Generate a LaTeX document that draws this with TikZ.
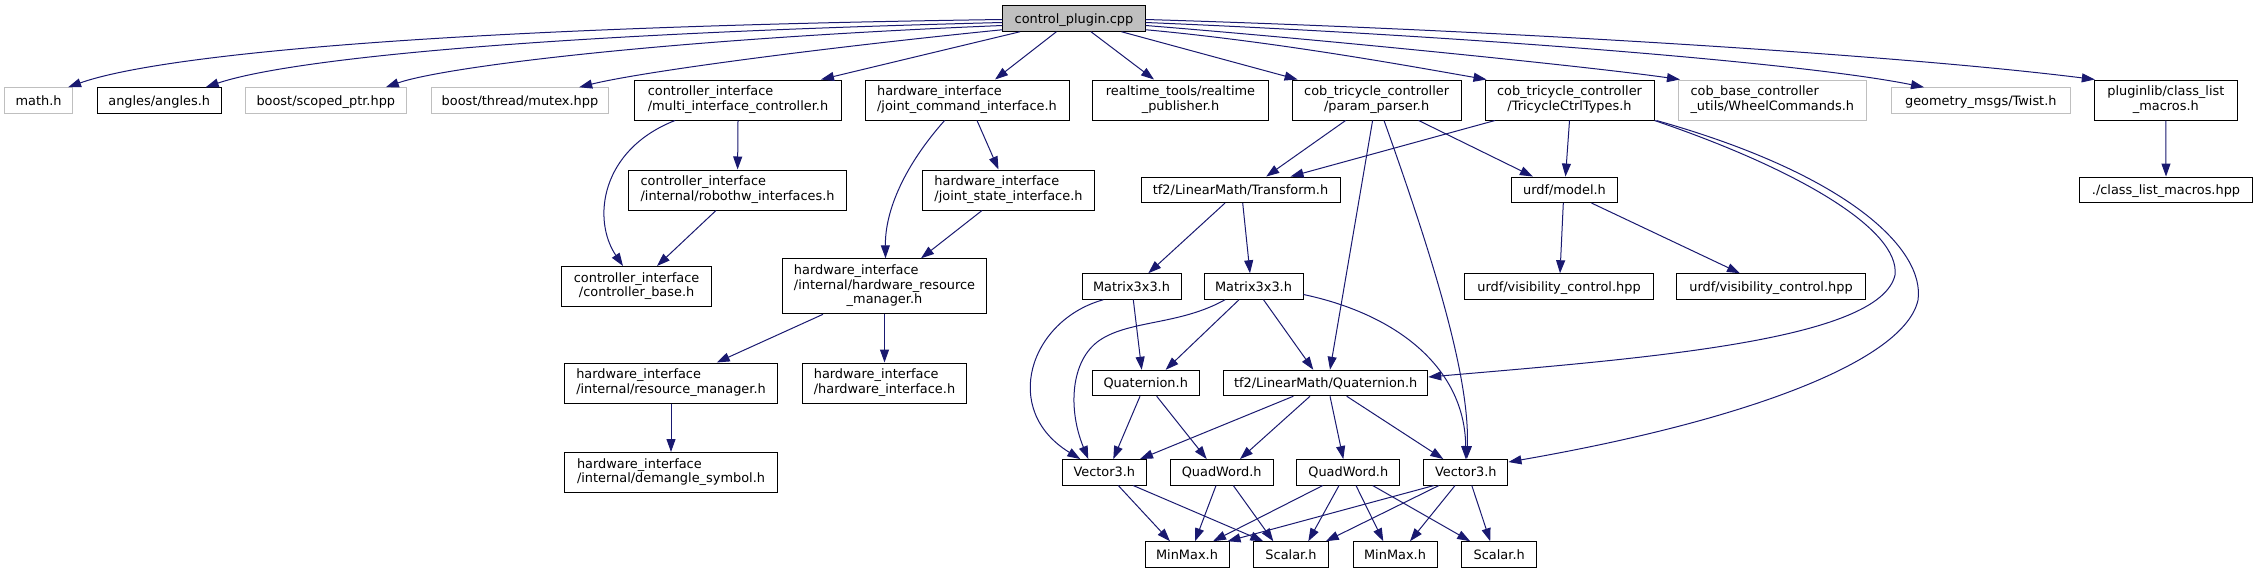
\documentclass[tikz,border=0pt]{standalone}
\usepackage{fontspec}
\setmainfont{DejaVu Sans}
\usetikzlibrary{arrows.meta,calc}
\definecolor{edgeblue}{HTML}{191970}
\definecolor{boxgray}{HTML}{BFBFBF}
\newcommand\dxfont{\fontsize{12.9}{14.5}\selectfont}
\newcommand\twol[2]{\begin{tabular}{@{}l@{}}#1\\\multicolumn{1}{@{}c@{}}{#2}\end{tabular}}
\newcommand\threel[3]{\begin{tabular}{@{}l@{}}#1\\#2\\\multicolumn{1}{@{}c@{}}{#3}\end{tabular}}
\tikzset{
  box/.style={draw=black, line width=1pt, inner sep=0pt, minimum height=25.5pt, font=\dxfont, text=black},
  one/.style={text height=10.5pt, text depth=1.5pt},
  two/.style={minimum height=40pt},
  three/.style={minimum height=55pt},
  gbox/.style={box, draw=boxgray},
  root/.style={box, fill=boxgray},
  dep/.style={draw=edgeblue, line width=1pt, -{Triangle[length=13pt,width=9pt]}},
}
\begin{document}
\begin{tikzpicture}[x=1pt,y=-1pt]
\useasboundingbox (0,0) rectangle (2258,573);
% row 0
\node[root,one,minimum width=142.4] (cp) at (1074,18.5) {control\_plugin.cpp};
% row 1
\node[gbox,one,minimum width=68] (math) at (38.6,100.5) {math.h};
\node[box,one,minimum width=124] (angles) at (159.2,100.5) {angles/angles.h};
\node[gbox,one,minimum width=161] (scoped) at (325.8,100.5) {boost/scoped\_ptr.hpp};
\node[gbox,one,minimum width=177.4] (mutex) at (520,100.5) {boost/thread/mutex.hpp};
\node[box,two,minimum width=206.7] (mic) at (738,100) {\twol{controller\_interface}{/multi\_interface\_controller.h}};
\node[box,two,minimum width=204] (jci) at (967,100) {\twol{hardware\_interface}{/joint\_command\_interface.h}};
\node[box,two,minimum width=175.5] (rtp) at (1180.5,100) {\twol{realtime\_tools/realtime}{\_publisher.h}};
\node[box,two,minimum width=169.2] (pp) at (1376.6,100) {\twol{cob\_tricycle\_controller}{/param\_parser.h}};
\node[box,two,minimum width=169] (tct) at (1569.5,100) {\twol{cob\_tricycle\_controller}{/TricycleCtrlTypes.h}};
\node[gbox,two,minimum width=187.7] (wc) at (1772.3,100) {\twol{cob\_base\_controller}{\_utils/WheelCommands.h}};
\node[gbox,one,minimum width=178.6] (twist) at (1980.8,100.5) {geometry\_msgs/Twist.h};
\node[box,two,minimum width=143] (clm) at (2165.8,100) {\twol{pluginlib/class\_list}{\_macros.h}};
% row 2
\node[box,two,minimum width=217.5] (rhw) at (737.6,190) {\twol{controller\_interface}{/internal/robothw\_interfaces.h}};
\node[box,two,minimum width=172] (jsi) at (1008.5,190) {\twol{hardware\_interface}{/joint\_state\_interface.h}};
\node[box,one,minimum width=199] (tr) at (1240.5,189.8) {tf2/LinearMath/Transform.h};
\node[box,one,minimum width=105.6] (model) at (1564.5,189.8) {urdf/model.h};
\node[box,one,minimum width=173.4] (clmh) at (2166,189.8) {./class\_list\_macros.hpp};
% row 3
\node[box,two,minimum width=149.6] (cb) at (636.6,286.5) {\twol{controller\_interface}{/controller\_base.h}};
\node[box,three,minimum width=204] (hrm) at (884.5,286.3) {\threel{hardware\_interface}{/internal/hardware\_resource}{\_manager.h}};
\node[box,one,minimum width=99] (m1) at (1131.5,286.5) {Matrix3x3.h};
\node[box,one,minimum width=99] (m2) at (1253.5,286.5) {Matrix3x3.h};
\node[box,one,minimum width=188.3] (vis1) at (1559,286.5) {urdf/visibility\_control.hpp};
\node[box,one,minimum width=188.2] (vis2) at (1771,286.5) {urdf/visibility\_control.hpp};
% row 4
\node[box,two,minimum width=213.4] (rm) at (671,383) {\twol{hardware\_interface}{/internal/resource\_manager.h}};
\node[box,two,minimum width=164.4] (hi) at (884.5,383) {\twol{hardware\_interface}{/hardware\_interface.h}};
\node[box,one,minimum width=106.7] (q1) at (1145.7,383) {Quaternion.h};
\node[box,one,minimum width=204] (tq) at (1325.7,383) {tf2/LinearMath/Quaternion.h};
% row 5
\node[box,two,minimum width=212.3] (dm) at (671,472.5) {\twol{hardware\_interface}{/internal/demangle\_symbol.h}};
\node[box,one,minimum width=84] (v1) at (1104.3,472.3) {Vector3.h};
\node[box,one,minimum width=102.7] (qw1) at (1221.7,472.3) {QuadWord.h};
\node[box,one,minimum width=102.7] (qw2) at (1348.3,472.3) {QuadWord.h};
\node[box,one,minimum width=84.3] (v2) at (1465.8,472.3) {Vector3.h};
% row 6
\node[box,one,minimum width=84] (mm1) at (1187,554.5) {MinMax.h};
\node[box,one,minimum width=74.6] (s1) at (1291,554.5) {Scalar.h};
\node[box,one,minimum width=84] (mm2) at (1395,554.5) {MinMax.h};
\node[box,one,minimum width=75] (s2) at (1499.2,554.5) {Scalar.h};

% edges from control_plugin.cpp
\draw[dep] ($(cp.west)+(0,1)$) .. controls (400,28) and (150,58) .. ($(math.north east)+(-5,0)$);
\draw[dep] ($(cp.west)+(0,4)$) .. controls (500,35) and (280,62) .. ($(angles.north east)+(-16,0)$);
\draw[dep] ($(cp.west)+(0,7)$) .. controls (650,40) and (440,68) .. ($(scoped.north east)+(-21,0)$);
\draw[dep] ($(cp.south west)+(0,-2)$) .. controls (820,48) and (640,72) .. ($(mutex.north east)+(-30,0)$);
\draw[dep] ($(cp.south)+(-54,0)$) -- ($(mic.north)+(83,0)$);
\draw[dep] ($(cp.south)+(-17.6,0)$) -- ($(jci.north)+(28,0)$);
\draw[dep] ($(cp.south)+(17,0)$) -- ($(rtp.north)+(-26.5,0)$);
\draw[dep] ($(cp.south)+(47.5,0)$) -- ($(pp.north)+(-79,0)$);
\draw[dep] ($(cp.south east)+(0,-2)$) .. controls (1280,42) and (1420,68) .. ($(tct.north west)+(2,0)$);
\draw[dep] ($(cp.east)+(0,7)$) .. controls (1350,42) and (1600,68) .. ($(wc.north west)+(2,0)$);
\draw[dep] ($(cp.east)+(0,4)$) .. controls (1450,35) and (1800,62) .. ($(twist.north west)+(33,0)$);
\draw[dep] ($(cp.east)+(0,1)$) .. controls (1500,30) and (1900,55) .. ($(clm.north west)+(1,0)$);

% controller / hardware interface part
\draw[dep] (mic.south) -- (rhw.north);
\draw[dep] ($(mic.south)+(-63,0)$) .. controls (600,150) and (592,220) .. ($(cb.north)+(-13.6,0)$);
\draw[dep] ($(rhw.south)+(-21.6,0)$) -- ($(cb.north)+(20.4,0)$);
\draw[dep] ($(jci.south)+(10,0)$) -- ($(jsi.north)+(-10,0)$);
\draw[dep] ($(jci.south)+(-22.4,0)$) .. controls (905,165) and (885,210) .. ($(hrm.north)+(1,0)$);
\draw[dep] ($(jsi.south)+(-26.5,0)$) -- ($(hrm.north)+(36.5,0)$);
\draw[dep] ($(hrm.south)+(-61.5,0)$) -- ($(rm.north)+(45.7,0)$);
\draw[dep] (hrm.south) -- (hi.north);
\draw[dep] (rm.south) -- (dm.north);

% cob_tricycle part
\draw[dep] ($(pp.south)+(-31,0)$) -- ($(tr.north)+(25.7,0)$);
\draw[dep] ($(tct.south)+(-74.5,0)$) -- ($(tr.north)+(50,0)$);
\draw[dep] ($(pp.south)+(42,0)$) -- ($(model.north)+(-31.6,0)$);
\draw[dep] (tct.south) -- ($(model.north)+(1,0)$);
\draw[dep] ($(pp.south)+(-4,0)$) -- ($(tq.north)+(4.3,0)$);
\draw[dep] ($(pp.south)+(7.4,0)$) .. controls (1436,266) and (1470,380) .. ($(v2.north)+(1,0)$);
\draw[dep] (tct.south east) .. controls (1800,170) and (1900,230) .. (1895,275) .. controls (1880,340) and (1650,358) .. ($(tq.east)+(0,-6)$);
\draw[dep] ($(tct.south east)+(2,0)$) .. controls (1850,175) and (1925,250) .. (1918,300) .. controls (1905,360) and (1750,420) .. ($(v2.north east)+(0,3)$);
\draw[dep] ($(model.south)+(-1.2,0)$) -- ($(vis1.north)+(1,0)$);
\draw[dep] ($(model.south)+(27,0)$) -- ($(vis2.north)+(-31,0)$);
\draw[dep] (clm.south) -- (clmh.north);

% LinearMath part
\draw[dep] ($(tr.south)+(-15.5,0)$) -- ($(m1.north)+(16.8,0)$);
\draw[dep] ($(tr.south)+(2.2,0)$) -- ($(m2.north)+(-3.5,0)$);
\draw[dep] ($(m1.south)+(-28.2,0)$) .. controls (1030,320) and (1000,410) .. ($(v1.north)+(-24,0)$);
\draw[dep] ($(m1.south)+(1.8,0)$) -- ($(q1.north)+(-4,0)$);
\draw[dep] ($(m2.south)+(-28.5,0)$) .. controls (1180,325) and (1130,320) .. (1100,340) .. controls (1070,360) and (1068,410) .. ($(v1.north)+(-16,0)$);
\draw[dep] ($(m2.south)+(-14.5,0)$) -- ($(q1.north)+(20,0)$);
\draw[dep] ($(m2.south)+(10,0)$) -- ($(tq.north)+(-12.4,0)$);
\draw[dep] ($(m2.east)+(0,8)$) .. controls (1400,315) and (1465,370) .. (v2.north);
\draw[dep] ($(q1.south)+(-5.7,0)$) -- ($(v1.north)+(9,0)$);
\draw[dep] ($(q1.south)+(11,0)$) -- ($(qw1.north)+(-15,0)$);
\draw[dep] ($(tq.south)+(-32.4,0)$) -- ($(v1.north)+(35.7,0)$);
\draw[dep] ($(tq.south)+(-15.7,0)$) -- ($(qw1.north)+(18.3,0)$);
\draw[dep] ($(tq.south)+(4.3,0)$) -- ($(qw2.north)+(-5,0)$);
\draw[dep] ($(tq.south)+(21,0)$) -- ($(v2.north)+(-22.5,0)$);
\draw[dep] ($(v1.south)+(14,0)$) -- ($(mm1.north)+(-17,0)$);
\draw[dep] ($(v1.south)+(29,0)$) -- ($(s1.north)+(-27.7,0)$);
\draw[dep] ($(qw1.south)+(-5.7,0)$) -- ($(mm1.north)+(8,0)$);
\draw[dep] ($(qw1.south)+(11.6,0)$) -- ($(s1.north)+(-17.7,0)$);
\draw[dep] ($(qw2.south)+(-25.6,0)$) -- ($(mm1.north)+(26,0)$);
\draw[dep] ($(qw2.south)+(-9.3,0)$) -- ($(s1.north)+(17.3,0)$);
\draw[dep] ($(qw2.south)+(7.7,0)$) -- ($(mm2.north)+(-11.7,0)$);
\draw[dep] ($(qw2.south)+(24.4,0)$) -- ($(s2.north)+(-29,0)$);
\draw[dep] ($(v2.south)+(-32,0)$) -- ($(mm1.north east)+(-2,0)$);
\draw[dep] ($(v2.south)+(-27,0)$) -- ($(s1.north east)+(-3,0)$);
\draw[dep] ($(v2.south)+(-10.8,0)$) -- ($(mm2.north)+(15,0)$);
\draw[dep] ($(v2.south)+(6,0)$) -- ($(s2.north)+(-9,0)$);
\end{tikzpicture}
\end{document}
